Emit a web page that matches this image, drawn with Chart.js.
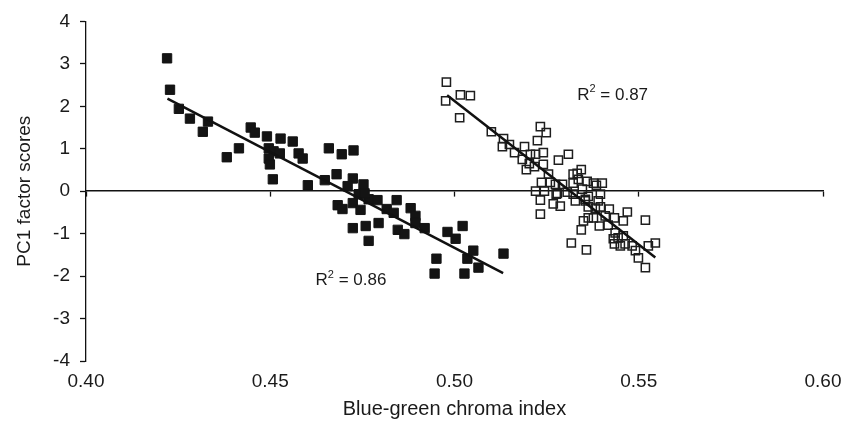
<!DOCTYPE html>
<html>
<head>
<meta charset="utf-8">
<script src="https://cdn.jsdelivr.net/npm/chart.js@4/dist/chart.umd.min.js"></script>
<style>
  html, body { margin: 0; padding: 0; background: #fff; }
  #wrap { width: 853px; height: 436px; position: relative; }
</style>
</head>
<body>
<div id="wrap"><canvas id="c"></canvas></div>
<script>
// ---- Data ----
const filledX = [0.4220,0.4228,0.4252,0.4282,0.4331,0.4317,0.4382,0.4415,0.4447,0.4458,
                 0.4491,0.4528,0.4561,0.4496,0.4509,0.4526,0.4577,0.4588,0.4496,0.4499,
                 0.4507,0.4602,0.4659,0.4694,0.4726,0.4648,0.4680,0.4724,0.4710,0.4753,
                 0.4740,0.4683,0.4696,0.4724,0.4745,0.4767,0.4791,0.4843,0.4816,0.4835,
                 0.4881,0.4894,0.4894,0.4919,0.4724,0.4759,0.4794,0.4767,0.4846,0.4864,
                 0.4981,0.5022,0.5003,0.4951,0.4946,0.5027,0.5035,0.5051,0.5065,0.5133,
                 0.4756];
const filledY = [3.13,2.39,1.94,1.71,1.64,1.40,0.80,1.01,1.50,1.38,
                 1.29,1.24,1.17,1.01,0.94,0.89,0.89,0.77,0.77,0.63,
                 0.28,0.14,1.01,0.87,0.96,0.26,0.40,0.30,0.12,0.16,
                 -0.07,-0.33,-0.42,-0.28,-0.44,-0.19,-0.21,-0.21,-0.42,-0.51,
                 -0.40,-0.58,-0.75,-0.87,-0.87,-0.82,-0.75,-1.17,-0.91,-1.01,
                 -0.96,-0.82,-1.12,-1.59,-1.94,-1.94,-1.59,-1.40,-1.80,-1.47,
                 -0.05];
const openX = [0.4978,0.4976,0.5016,0.5043,0.5014,0.5100,0.5133,0.5130,0.5149,0.5190,
               0.5163,0.5233,0.5249,0.5225,0.5241,0.5220,0.5184,0.5203,0.5195,0.5217,
               0.5241,0.5282,0.5309,0.5255,0.5260,0.5236,0.5220,0.5244,0.5274,0.5279,
               0.5233,0.5233,0.5293,0.5276,0.5268,0.5287,0.5322,0.5322,0.5333,0.5344,
               0.5336,0.5360,0.5377,0.5401,0.5385,0.5347,0.5363,0.5396,0.5322,0.5328,
               0.5355,0.5390,0.5363,0.5382,0.5396,0.5420,0.5409,0.5434,0.5469,0.5350,
               0.5363,0.5377,0.5393,0.5417,0.5458,0.5518,0.5344,0.5436,0.5317,0.5358,
               0.5431,0.5444,0.5458,0.5434,0.5450,0.5463,0.5482,0.5491,0.5499,0.5526,
               0.5545,0.5518,0.5206,0.5306,0.5355];
const openY = [2.57,2.13,2.27,2.25,1.73,1.40,1.24,1.05,1.10,1.05,
               0.91,1.52,1.38,1.19,0.91,0.87,0.75,0.65,0.51,0.58,
               0.63,0.73,0.87,0.40,0.21,0.21,0.00,0.00,0.16,-0.05,
               -0.21,-0.54,0.16,-0.07,-0.30,-0.35,0.19,0.40,0.42,0.51,
               0.28,0.23,0.19,0.19,0.14,0.05,-0.12,-0.07,-0.07,-0.23,
               -0.23,-0.23,-0.37,-0.40,-0.37,-0.42,-0.58,-0.63,-0.49,-0.70,
               -0.63,-0.63,-0.82,-0.80,-0.70,-0.68,-0.91,-0.98,-1.22,-1.38,
               -1.12,-1.10,-1.05,-1.24,-1.29,-1.24,-1.29,-1.40,-1.57,-1.29,
               -1.22,-1.80,0.87,-0.02,-0.19];
const fitFilledX = [0.4221, 0.5132];
const fitFilledY = [2.18, -1.93];
const fitOpenX = [0.4980, 0.5545];
const fitOpenY = [2.26, -1.56];
const r2Values = ['0.86', '0.87'];
const r2X = [0.4623, 0.5333];
const r2Y = [-2.11, 2.27];
const xTickValues = [0.40, 0.45, 0.50, 0.55, 0.60];
const yTickValues = [-4, -3, -2, -1, 0, 1, 2, 3, 4];
const xTitle = 'Blue-green chroma index';
const yTitle = 'PC1 factor scores';

const FONT = '"Liberation Sans", Arial, Helvetica, sans-serif';
const toPts = (xs, ys) => xs.map((x, i) => ({ x: x, y: ys[i] }));

const r2Plugin = {
  id: 'r2labels',
  afterDatasetsDraw(chart) {
    const ctx = chart.ctx;
    const xs = chart.scales.x, ys = chart.scales.y;
    ctx.save();
    ctx.fillStyle = '#1a1a1a';
    ctx.textBaseline = 'middle';
    ctx.textAlign = 'left';
    r2Values.forEach((v, i) => {
      let px = xs.getPixelForValue(r2X[i]);
      const py = ys.getPixelForValue(r2Y[i]);
      ctx.font = '17px ' + FONT;
      ctx.fillText('R', px, py);
      px += ctx.measureText('R').width;
      ctx.font = '11px ' + FONT;
      ctx.fillText('2', px, py - 6);
      px += ctx.measureText('2').width;
      ctx.font = '17px ' + FONT;
      ctx.fillText(' = ' + v, px, py);
    });
    ctx.restore();
  }
};

new Chart(document.getElementById('c'), {
  type: 'scatter',
  data: {
    datasets: [
      {
        label: 'filled',
        data: toPts(filledX, filledY),
        pointStyle: 'rect',
        pointRadius: 6.6,
        pointBorderWidth: 1,
        backgroundColor: '#141414',
        borderColor: '#141414',
        order: 2
      },
      {
        label: 'open',
        data: toPts(openX, openY),
        pointStyle: 'rect',
        pointRadius: 5.8,
        pointBorderWidth: 1.5,
        backgroundColor: 'rgba(0,0,0,0)',
        borderColor: '#1e1e1e',
        order: 2
      },
      {
        type: 'line',
        label: 'fit filled',
        data: toPts(fitFilledX, fitFilledY),
        borderColor: '#111',
        borderWidth: 2.5,
        pointRadius: 0,
        fill: false,
        order: 1
      },
      {
        type: 'line',
        label: 'fit open',
        data: toPts(fitOpenX, fitOpenY),
        borderColor: '#111',
        borderWidth: 2.5,
        pointRadius: 0,
        fill: false,
        order: 1
      }
    ]
  },
  options: {
    responsive: true,
    maintainAspectRatio: false,
    animation: false,
    layout: { padding: { left: 0, top: 19, right: 30, bottom: 0 } },
    plugins: { legend: { display: false }, tooltip: { enabled: false } },
    scales: {
      x: {
        type: 'linear',
        position: 'bottom',
        min: 0.40,
        max: 0.60,
        afterBuildTicks: s => { s.ticks = xTickValues.map(v => ({ value: v })); },
        afterFit: s => { s.height = 75; },
        grid: { display: false, drawTicks: false },
        border: { display: false },
        ticks: {
          padding: 9,
          color: '#1a1a1a',
          font: { family: FONT, size: 19 },
          maxRotation: 0,
          callback: v => Number(v).toFixed(2)
        },
        title: {
          display: true,
          text: xTitle,
          color: '#1a1a1a',
          font: { family: FONT, size: 20 },
          padding: { top: 4, bottom: 15 }
        }
      },
      x2: {
        type: 'linear',
        axis: 'x',
        position: { y: 0 },
        min: 0.40,
        max: 0.60,
        afterBuildTicks: s => { s.ticks = xTickValues.map(v => ({ value: v })); },
        grid: {
          display: true,
          drawOnChartArea: false,
          drawTicks: true,
          tickLength: 5,
          tickColor: '#111',
          tickWidth: 1.3
        },
        border: { display: true, color: '#111', width: 1.6 },
        ticks: { display: false }
      },
      y: {
        type: 'linear',
        position: 'left',
        min: -4,
        max: 4,
        afterBuildTicks: s => { s.ticks = yTickValues.map(v => ({ value: v })); },
        afterFit: s => { s.width = 86; },
        grid: {
          display: true,
          drawOnChartArea: false,
          drawTicks: true,
          tickLength: 6,
          tickColor: '#111',
          tickWidth: 1.3
        },
        border: { display: true, color: '#111', width: 1.3 },
        ticks: {
          padding: 10,
          color: '#1a1a1a',
          font: { family: FONT, size: 19 }
        },
        title: {
          display: true,
          text: yTitle,
          color: '#1a1a1a',
          font: { family: FONT, size: 19 },
          padding: { top: 13, bottom: 4 }
        }
      }
    }
  },
  plugins: [r2Plugin]
});
</script>
</body>
</html>
